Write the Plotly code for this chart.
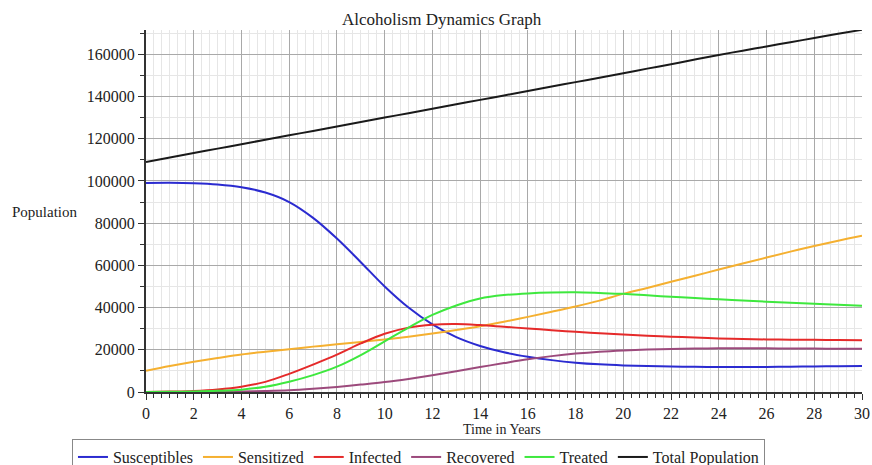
import plotly.graph_objects as go

years = list(range(0, 31))

susceptibles = [99000, 99100, 98900, 98300, 97000, 94500, 90000, 82500, 72700, 61500,
                50000, 40000, 32000, 26000, 21800, 18800, 16700, 15100, 13900, 13100,
                12600, 12300, 12100, 11950, 11850, 11850, 11900, 12000, 12100, 12200, 12300]
sensitized = [10100, 12300, 14300, 16100, 17800, 19100, 20300, 21500, 22600, 23700,
              24900, 26200, 27700, 29400, 31200, 33300, 35600, 38000, 40500, 43300,
              46500, 49300, 52200, 55100, 58000, 60900, 63700, 66500, 69200, 71700, 74000]
infected = [0, 200, 500, 1200, 2500, 4800, 8600, 13000, 17700, 23000,
            27600, 30500, 31900, 32200, 31700, 30900, 30100, 29300, 28500, 27800,
            27200, 26700, 26200, 25800, 25400, 25100, 24900, 24800, 24700, 24600, 24500]
recovered = [0, 20, 80, 150, 250, 450, 800, 1500, 2400, 3500,
             4700, 6200, 7900, 9800, 11800, 13700, 15500, 17000, 18200, 19100,
             19700, 20100, 20400, 20600, 20700, 20700, 20700, 20600, 20600, 20500, 20500]
treated = [0, 100, 250, 550, 1100, 2500, 4900, 8000, 12000, 17500,
           24000, 30500, 36500, 41000, 44300, 45900, 46700, 47100, 47200, 46900,
           46500, 45800, 45100, 44500, 43900, 43300, 42800, 42300, 41800, 41300, 40900]
total = [109000, 111100, 113200, 115300, 117400, 119500, 121600, 123700, 125800, 127900,
         130000, 132100, 134200, 136300, 138400, 140500, 142600, 144700, 146800, 148900,
         151000, 153200, 155300, 157500, 159700, 161700, 163700, 165700, 167700, 169700, 171600]

series = [
    ("Susceptibles", susceptibles, "#2b2bd0"),
    ("Sensitized", sensitized, "#f5b030"),
    ("Infected", infected, "#e52a2a"),
    ("Recovered", recovered, "#9c4a7c"),
    ("Treated", treated, "#3ee83e"),
    ("Total Population", total, "#1a1a1a"),
]

FONT = "Liberation Serif"

fig = go.Figure()
for name, vals, color in series:
    fig.add_trace(go.Scatter(x=years, y=vals, name=name, mode="lines",
                             line=dict(color=color, width=2, shape="spline")))

fig.update_layout(
    width=872, height=465,
    margin=dict(l=146, r=10, t=30, b=73, autoexpand=False),
    paper_bgcolor="white", plot_bgcolor="white",
    font=dict(family=FONT, size=16, color="#222"),
    title=dict(text="Alcoholism Dynamics Graph", xref="paper", x=0.413, xanchor="center",
               yref="container", y=0.96, yanchor="middle",
               font=dict(family=FONT, size=17, color="#222")),
    showlegend=True,
    legend=dict(orientation="h", xanchor="left", x=-0.1034, yanchor="top", y=-0.13,
                bordercolor="#888", borderwidth=1, font=dict(family=FONT, size=16, color="#222"),
                itemwidth=30, tracegroupgap=0),
)

fig.update_xaxes(
    range=[0, 30], dtick=2, tick0=0,
    showgrid=True, gridcolor="#a9a9a9", gridwidth=1,
    showline=True, linecolor="#333", linewidth=2,
    ticks="outside", ticklen=6, tickcolor="#333",
    zeroline=False,
    minor=dict(dtick=2 / 6, showgrid=True, gridcolor="#e6e6e6", ticks="outside", ticklen=4, tickcolor="#333"),
    tickfont=dict(family=FONT, size=16, color="#222"),
)
fig.update_yaxes(
    range=[0, 171500], dtick=20000, tick0=0, tickformat="d",
    showgrid=True, gridcolor="#a9a9a9", gridwidth=1,
    showline=True, linecolor="#333", linewidth=2,
    ticks="outside", ticklen=6, tickcolor="#333",
    zeroline=False,
    minor=dict(dtick=10000, showgrid=True, gridcolor="#e6e6e6", ticks="outside", ticklen=4, tickcolor="#333"),
    tickfont=dict(family=FONT, size=16, color="#222"),
)

fig.add_annotation(text="Population", xref="paper", yref="paper", x=-0.141, y=0.498,
                   showarrow=False, xanchor="center", yanchor="middle",
                   font=dict(family=FONT, size=15, color="#222"))
fig.add_annotation(text="Time in Years", xref="paper", yref="paper", x=0.497, y=-0.103,
                   showarrow=False, xanchor="center", yanchor="middle",
                   font=dict(family=FONT, size=14, color="#222"))

fig.write_html("out.html", config={"displayModeBar": False},
               post_script="document.body.style.margin='0';document.body.style.overflow='hidden';")
